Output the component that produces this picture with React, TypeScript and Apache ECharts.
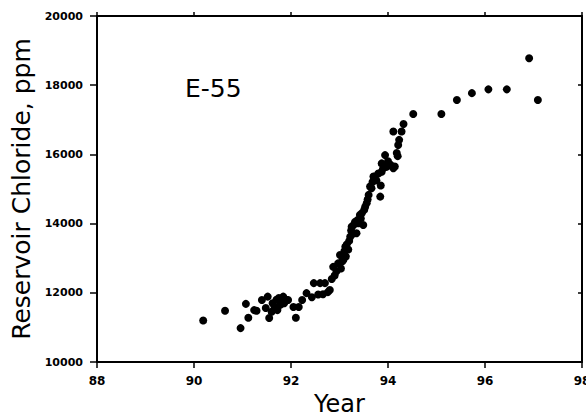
import React, { useEffect, useRef } from "react";
import * as echarts from "echarts";

const years: number[] = [
  90.19, 90.64, 90.96, 91.07, 91.12, 91.29, 91.24, 91.4, 91.48, 91.52, 91.55, 91.6,
  91.62, 91.66, 91.7, 91.72, 91.75, 91.78, 91.8, 91.84, 91.86, 91.9, 91.94, 92.05,
  92.1, 92.16, 92.23, 92.32, 92.43, 92.47, 92.56, 92.6, 92.66, 92.7, 92.76, 92.8,
  92.84, 92.87, 92.9, 92.94, 92.97, 93.01, 93.03, 93.05, 93.08, 93.1, 93.12, 93.13,
  93.15, 93.18, 93.2, 93.22, 93.24, 93.25, 93.27, 93.29, 93.32, 93.35, 93.37, 93.39,
  93.42, 93.44, 93.46, 93.49, 93.51, 93.53, 93.56, 93.58, 93.6, 93.63, 93.66, 93.68,
  93.7, 93.73, 93.76, 93.8, 93.84, 93.85, 93.87, 93.87, 93.9, 93.94, 93.97, 94.0,
  94.05, 94.11, 94.14, 94.18, 94.2, 94.21, 94.23, 94.11, 94.28, 94.32, 94.52, 95.1,
  95.42, 95.73, 96.07, 96.45, 96.91, 97.09,
];

const chloride: number[] = [
  11200, 11480, 10980, 11680, 11280, 11480, 11500, 11790, 11560, 11890, 11270, 11450,
  11700, 11600, 11800, 11500, 11850, 11650, 11750, 11890, 11700, 11800, 11790, 11590,
  11280, 11590, 11790, 11990, 11870, 12280, 11950, 12280, 11960, 12280, 12020, 12080,
  12400, 12750, 12500, 12620, 12850, 13090, 12700, 12900, 12950, 13200, 13330, 13050,
  13400, 13250, 13500, 13620, 13800, 13910, 13700, 13960, 14050, 13720, 14100, 14010,
  14250, 14150, 14300, 13960, 14400, 14490, 14590, 14700, 14830, 15070, 15020, 15200,
  15360, 15360, 15250, 15450, 14780, 15100, 15500, 15740, 15600, 15980, 15640, 15800,
  15700, 15600, 15650, 16040, 15950, 16270, 16420, 16660, 16660, 16880, 17170, 17170,
  17570, 17770, 17880, 17880, 18780, 17570,
];

const xTicks = [88, 90, 92, 94, 96, 98];
const yTicks = [10000, 12000, 14000, 16000, 18000, 20000];
const wellLabel = "E-55";
const xTitle = "Year";
const yTitle = "Reservoir Chloride, ppm";

export default function App() {
  const ref = useRef<HTMLDivElement>(null);
  useEffect(() => {
    if (!ref.current) return;
    const chart = echarts.init(ref.current, null, { renderer: "svg" });
    const font = "DejaVu Sans";
    const lineStyle = { color: "#000", width: 2 };
    const points = years.map((y, i) => [y, chloride[i]]);
    const tickLabel = {
      color: "#000",
      fontFamily: font,
      fontSize: 11,
      fontWeight: "bold",
      formatter: (v: number) => String(v),
    };
    chart.setOption({
      animation: false,
      backgroundColor: "#fff",
      grid: { left: 97, right: 4, top: 16, bottom: 56, containLabel: false, outerBoundsMode: "none" },
      xAxis: [
        {
          type: "value",
          min: xTicks[0],
          max: xTicks[xTicks.length - 1],
          interval: 2,
          position: "bottom",
          axisLine: { show: true, lineStyle },
          axisTick: { show: true, inside: false, length: 6, lineStyle: { color: "#000", width: 1.5 } },
          axisLabel: { ...tickLabel, fontSize: 12, margin: 13 },
          splitLine: { show: false },
          name: xTitle,
          nameLocation: "middle",
          nameGap: 28,
          nameTextStyle: { color: "#000", fontFamily: font, fontSize: 24 },
        },
        {
          type: "value",
          min: xTicks[0],
          max: xTicks[xTicks.length - 1],
          interval: 2,
          position: "top",
          axisLine: { show: true, lineStyle },
          axisTick: { show: true, inside: false, length: 4, lineStyle: { color: "#000", width: 1.5 } },
          axisLabel: { show: false },
          splitLine: { show: false },
        },
      ],
      yAxis: [
        {
          type: "value",
          min: yTicks[0],
          max: yTicks[yTicks.length - 1],
          interval: 2000,
          position: "left",
          axisLine: { show: true, lineStyle },
          axisTick: { show: true, inside: false, length: 7, lineStyle: { color: "#000", width: 1.5 } },
          axisLabel: { ...tickLabel, margin: 14 },
          splitLine: { show: false },
          name: yTitle,
          nameLocation: "middle",
          nameGap: 63,
          nameTextStyle: { color: "#000", fontFamily: font, fontSize: 25 },
        },
        {
          type: "value",
          min: yTicks[0],
          max: yTicks[yTicks.length - 1],
          interval: 2000,
          position: "right",
          axisLine: { show: true, lineStyle },
          axisTick: { show: true, inside: true, length: 4, lineStyle: { color: "#000", width: 1.5 } },
          axisLabel: { show: false },
          splitLine: { show: false },
        },
      ],
      graphic: [
        {
          type: "text",
          left: 185,
          top: 76,
          style: { text: wellLabel, fill: "#000", font: `25px "${font}"` },
        },
      ],
      series: [
        {
          type: "scatter",
          data: points,
          symbol: "circle",
          symbolSize: 8,
          itemStyle: { color: "#000", opacity: 1 },
        },
      ],
    });
    return () => chart.dispose();
  }, []);
  return (
    <div
      ref={ref}
      style={{ position: "fixed", left: 0, top: 0, width: 586, height: 418 }}
    />
  );
}
